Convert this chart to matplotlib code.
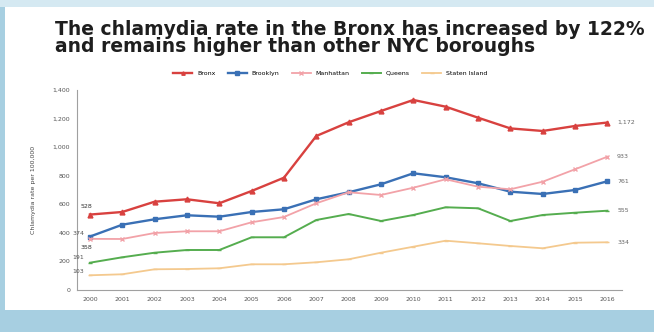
import matplotlib.pyplot as plt
from matplotlib.patches import Rectangle

# chlamydia rate per 100,000 by borough, 2000-2016
years = [str(y) for y in range(2000, 2017)]
bronx = [528, 546, 618, 635, 607, 693, 786, 1078, 1174, 1253, 1330, 1283, 1206, 1131, 1113, 1148, 1172]
brooklyn = [374, 457, 495, 523, 513, 546, 565, 635, 684, 740, 817, 789, 747, 688, 672, 700, 761]
manhattan = [358, 357, 399, 411, 411, 474, 511, 607, 684, 665, 716, 775, 723, 705, 758, 845, 933]
queens = [191, 229, 261, 280, 280, 369, 369, 490, 532, 483, 525, 579, 572, 483, 525, 541, 555]
staten = [103, 110, 145, 147, 152, 180, 180, 194, 215, 261, 303, 345, 327, 308, 292, 331, 334]

names = ["Bronx", "Brooklyn", "Manhattan", "Queens", "Staten Island"]
series = [bronx, brooklyn, manhattan, queens, staten]
colors = ["#d8413f", "#3a70b5", "#f2a2a8", "#55ad4f", "#f4c98e"]
markers = ["^", "s", "x", "_", "_"]
widths = [1.7, 1.7, 1.3, 1.4, 1.3]

plt.rcParams['font.family'] = ['DejaVu Sans']

fig = plt.figure(figsize=(6.54, 3.32), dpi=100)
fig.patch.set_facecolor("#a7cfe1")

# slide background: light strip on top, white panel
fig.patches.append(Rectangle((0, 0.979), 1, 0.021, transform=fig.transFigure,
                             facecolor="#d5e9f2", edgecolor="none", zorder=-10))
fig.patches.append(Rectangle((0.008, 0.066), 0.992, 0.913, transform=fig.transFigure,
                             facecolor="white", edgecolor="none", zorder=-10))

fig.text(0.084, 0.886, "The chlamydia rate in the Bronx has increased by 122%\nand remains higher than other NYC boroughs",
         fontsize=13.5, fontweight="bold", color="#1e1e1e", va="center", ha="left", linespacing=0.84)

ax = fig.add_axes([0.1177, 0.1265, 0.8333, 0.6025])
ax.set_facecolor("none")
x = list(range(len(years)))
for name, vals, c, m, w in zip(names, series, colors, markers, widths):
    ax.plot(x, vals, color=c, marker=m, markersize=3.5, linewidth=w, label=name,
            markeredgewidth=1.0)

# start and end values
ax.text(-0.1, bronx[0] + 45, str(bronx[0]), fontsize=4.5, color="#333333", ha="center")
ax.text(-0.55, brooklyn[0] + 10, str(brooklyn[0]), fontsize=4.5, color="#555555", ha="left")
ax.text(-0.1, manhattan[0] - 70, str(manhattan[0]), fontsize=4.5, color="#333333", ha="center")
ax.text(-0.55, queens[0] + 25, str(queens[0]), fontsize=4.5, color="#555555", ha="left")
ax.text(-0.55, staten[0] + 15, str(staten[0]), fontsize=4.5, color="#555555", ha="left")
for vals in series:
    ax.text(16.3, vals[-1], f"{vals[-1]:,}", fontsize=4.5, color="#666666", va="center", ha="left")

ax.set_xlim(-0.4, 16.45)
ax.set_ylim(0, 1400)
ax.set_xticks(x)
ax.set_xticklabels(years, fontsize=4.5, color="#555555")
ax.set_yticks(range(0, 1401, 200))
ax.set_yticklabels([f"{v:,}" for v in range(0, 1401, 200)], fontsize=4.5, color="#555555")
ax.tick_params(length=0, pad=5)
ax.set_ylabel("Chlamydia rate per 100,000", fontsize=4.5, color="#444444", labelpad=12)
for side in ["top", "right"]:
    ax.spines[side].set_visible(False)
for side in ["left", "bottom"]:
    ax.spines[side].set_color("#a0a0a0")
    ax.spines[side].set_linewidth(0.8)

fig.legend(loc="center", bbox_to_anchor=(0.505, 0.78), ncol=5, frameon=False,
           fontsize=4.5, handlelength=3, columnspacing=2.0, markerscale=0.7)

fig.savefig("out.png", dpi=100, facecolor=fig.get_facecolor())
